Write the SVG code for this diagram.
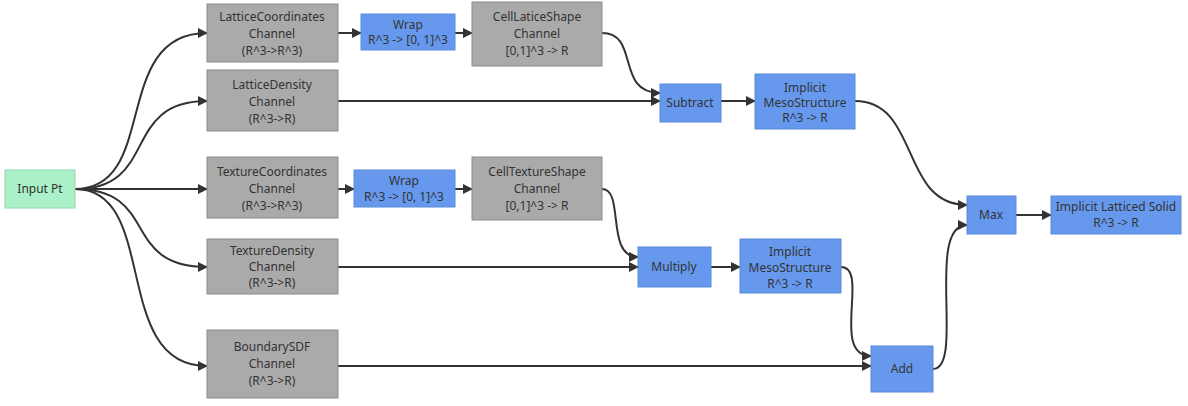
<svg xmlns="http://www.w3.org/2000/svg" width="1188" height="406" viewBox="0 0 1188 406">
<style>
text{font-family:"Noto Sans","Open Sans",sans-serif;font-size:12px;fill:#333;text-anchor:middle}
.g{fill:#aaaaaa;stroke:#8c8c8c;stroke-width:1}
.b{fill:#6699ee;stroke:#5a8ad8;stroke-width:1}
.n{fill:#aaf0c8;stroke:#8fd8ae;stroke-width:1}
.e{fill:none;stroke:#333;stroke-width:2}
</style>
<defs><marker id="a" viewBox="0 0 10 10" refX="9" refY="5" markerWidth="5" markerHeight="5" orient="auto"><path d="M0,0L10,5L0,10z" fill="#333"/></marker></defs>
<rect width="1188" height="406" fill="#fff"/>
<g id="edges">
<path class="e" marker-end="url(#a)" d="M75,189C160,189 110,33 207,33"/>
<path class="e" marker-end="url(#a)" d="M75,189C160,189 120,101 207,101"/>
<path class="e" marker-end="url(#a)" d="M75,189L207,189"/>
<path class="e" marker-end="url(#a)" d="M75,189C160,189 120,267 207,267"/>
<path class="e" marker-end="url(#a)" d="M75,189C160,189 110,366 207,366"/>
<path class="e" marker-end="url(#a)" d="M338,33L361,33"/>
<path class="e" marker-end="url(#a)" d="M455,33L472,33"/>
<path class="e" marker-end="url(#a)" d="M602,33C640,33 615,93 660,93"/>
<path class="e" marker-end="url(#a)" d="M338,101L660,101"/>
<path class="e" marker-end="url(#a)" d="M721,101L755,101"/>
<path class="e" marker-end="url(#a)" d="M855,101C920,101 900,205 967,205"/>
<path class="e" marker-end="url(#a)" d="M338,189L354,189"/>
<path class="e" marker-end="url(#a)" d="M455,189L472,189"/>
<path class="e" marker-end="url(#a)" d="M602,189C625,189 605,257 638,257"/>
<path class="e" marker-end="url(#a)" d="M338,267L638,267"/>
<path class="e" marker-end="url(#a)" d="M711,267L740,267"/>
<path class="e" marker-end="url(#a)" d="M841,267C870,267 830,356 871,356"/>
<path class="e" marker-end="url(#a)" d="M338,366L871,366"/>
<path class="e" marker-end="url(#a)" d="M933,369C965,369 925,225 967,225"/>
<path class="e" marker-end="url(#a)" d="M1016,215L1051,215"/>
</g>
<g id="input"><rect class="n" x="5" y="170" width="70" height="38"/><text x="40" y="193">Input Pt</text></g>
<g id="latcoord"><rect class="g" x="207" y="4" width="131" height="58"/><text x="272" y="21">LatticeCoordinates</text><text x="272" y="38">Channel</text><text x="272" y="55">(R^3-&gt;R^3)</text></g>
<g id="wrap1"><rect class="b" x="361" y="14" width="94" height="36"/><text x="408" y="29">Wrap</text><text x="408" y="44">R^3 -&gt; [0, 1]^3</text></g>
<g id="cellLat"><rect class="g" x="472" y="2" width="130" height="64"/><text x="537" y="21">CellLaticeShape</text><text x="537" y="38">Channel</text><text x="537" y="55">[0,1]^3 -&gt; R</text></g>
<g id="latdens"><rect class="g" x="207" y="70" width="131" height="61"/><text x="272" y="89">LatticeDensity</text><text x="272" y="106">Channel</text><text x="272" y="123">(R^3-&gt;R)</text></g>
<g id="subtract"><rect class="b" x="660" y="84" width="61" height="38"/><text x="690" y="107">Subtract</text></g>
<g id="meso1"><rect class="b" x="755" y="74" width="100" height="55"/><text x="805" y="92">Implicit</text><text x="805" y="107">MesoStructure</text><text x="805" y="122">R^3 -&gt; R</text></g>
<g id="texcoord"><rect class="g" x="207" y="157" width="131" height="61"/><text x="272" y="176">TextureCoordinates</text><text x="272" y="193">Channel</text><text x="272" y="210">(R^3-&gt;R^3)</text></g>
<g id="wrap2"><rect class="b" x="354" y="170" width="101" height="37"/><text x="404" y="185">Wrap</text><text x="404" y="201">R^3 -&gt; [0, 1]^3</text></g>
<g id="cellTex"><rect class="g" x="472" y="157" width="130" height="63"/><text x="537" y="176">CellTextureShape</text><text x="537" y="193">Channel</text><text x="537" y="210">[0,1]^3 -&gt; R</text></g>
<g id="texdens"><rect class="g" x="207" y="239" width="131" height="55"/><text x="272" y="255">TextureDensity</text><text x="272" y="271">Channel</text><text x="272" y="287">(R^3-&gt;R)</text></g>
<g id="multiply"><rect class="b" x="638" y="247" width="73" height="40"/><text x="674" y="271">Multiply</text></g>
<g id="meso2"><rect class="b" x="740" y="239" width="101" height="54"/><text x="790" y="256">Implicit</text><text x="790" y="272">MesoStructure</text><text x="790" y="288">R^3 -&gt; R</text></g>
<g id="boundary"><rect class="g" x="207" y="330" width="131" height="68"/><text x="272" y="351">BoundarySDF</text><text x="272" y="368">Channel</text><text x="272" y="385">(R^3-&gt;R)</text></g>
<g id="add"><rect class="b" x="871" y="346" width="62" height="46"/><text x="902" y="373">Add</text></g>
<g id="max"><rect class="b" x="967" y="196" width="49" height="38"/><text x="991" y="219">Max</text></g>
<g id="solid"><rect class="b" x="1051" y="196" width="130" height="38"/><text x="1116" y="211">Implicit Latticed Solid</text><text x="1116" y="227">R^3 -&gt; R</text></g>
</svg>
